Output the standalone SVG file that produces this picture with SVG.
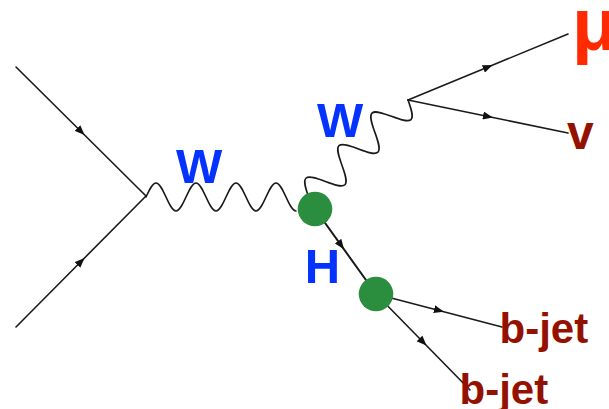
<svg xmlns="http://www.w3.org/2000/svg" width="609" height="409" viewBox="0 0 609 409">
<defs>
<style>
.f{fill:none;stroke:#1a1a1a;stroke-width:1.6;stroke-linecap:round;marker-mid:url(#arr)}
.w{fill:none;stroke:#1a1a1a;stroke-width:1.6;stroke-linecap:round;stroke-linejoin:round}
.v{fill:#2b8e3f}
.lb{font-family:"Liberation Sans",Arial,sans-serif;font-weight:bold}
.blue{fill:#0433ff}
.dred{fill:#941100}
</style>
<marker id="arr" viewBox="0 0 10 8" refX="5" refY="4" markerWidth="10" markerHeight="8" markerUnits="userSpaceOnUse" orient="auto">
<path d="M0,0 L10,4 L0,8 z" fill="#111"/>
</marker>
</defs>
<rect width="609" height="409" fill="#ffffff"/>
<g id="connectors">
<polyline id="quark-in" class="f" points="16,67 81,131.5 146,196"/>
<polyline id="antiquark-in" class="f" points="16,327 81,261.5 146,196"/>
<path id="w-star" class="w" d="M146,197 c3.26,-7.17 6.38,-14 10,-14 s6.74,6.83 10,14 s6.38,14 10,14 s6.74,-6.83 10,-14 s6.38,-14 10,-14 s6.74,6.83 10,14 s6.38,14 10,14 s6.74,-6.83 10,-14 s6.38,-14 10,-14 s6.74,6.83 10,14 s6.38,14 10,14 s6.74,-6.83 10,-14 s6.38,-14 10,-14 s6.74,6.83 10,14 s6.38,14 10,14"/>
<path id="w-out" class="w" transform="translate(308.9,197.8) rotate(-44.6)" d="M0,0 c3.78,-8.2 7.4,-16 11.6,-16 s7.82,7.8 11.6,16 s7.4,16 11.6,16 s7.82,-7.8 11.6,-16 s7.4,-16 11.6,-16 s7.82,7.8 11.6,16 s7.4,16 11.6,16 s7.82,-7.8 11.6,-16 s7.4,-16 11.6,-16 s7.82,7.8 11.6,16 s7.4,16 11.6,16 s7.82,-7.8 11.6,-16"/>
<polyline id="muon" class="f" points="408,100 488,67 568,34"/>
<polyline id="neutrino" class="f" points="408,100 488,116.5 568,133"/>
<polyline id="higgs" class="f" style="stroke-width:2" points="315,209 341,245.2 376,294"/>
<polyline id="bjet1-line" class="f" points="376,294 439,310.5 502,327"/>
<polyline id="bjet2-line" class="f" points="376,294 423,342 470,390"/>
</g>
<g id="node-hw-vertex"><circle class="v" cx="315" cy="209" r="17.3"/></g>
<g id="node-hbb-vertex"><circle class="v" cx="376" cy="294" r="17.3"/></g>
<g id="label-w1"><text class="lb blue" x="176" y="183" font-size="49">W</text></g>
<g id="label-w2"><text class="lb blue" x="317" y="137" font-size="49">W</text></g>
<g id="label-h"><text class="lb blue" x="304.7" y="283" font-size="49">H</text></g>
<g id="label-mu"><text class="lb" fill="#ff2a00" x="572" y="50" font-size="74">μ</text></g>
<g id="label-nu"><text class="lb dred" x="567" y="149" font-size="48">v</text></g>
<g id="label-bjet1"><text class="lb dred" x="499.5" y="343" font-size="42">b-jet</text></g>
<g id="label-bjet2"><text class="lb dred" x="459.5" y="404" font-size="42">b-jet</text></g>
</svg>
